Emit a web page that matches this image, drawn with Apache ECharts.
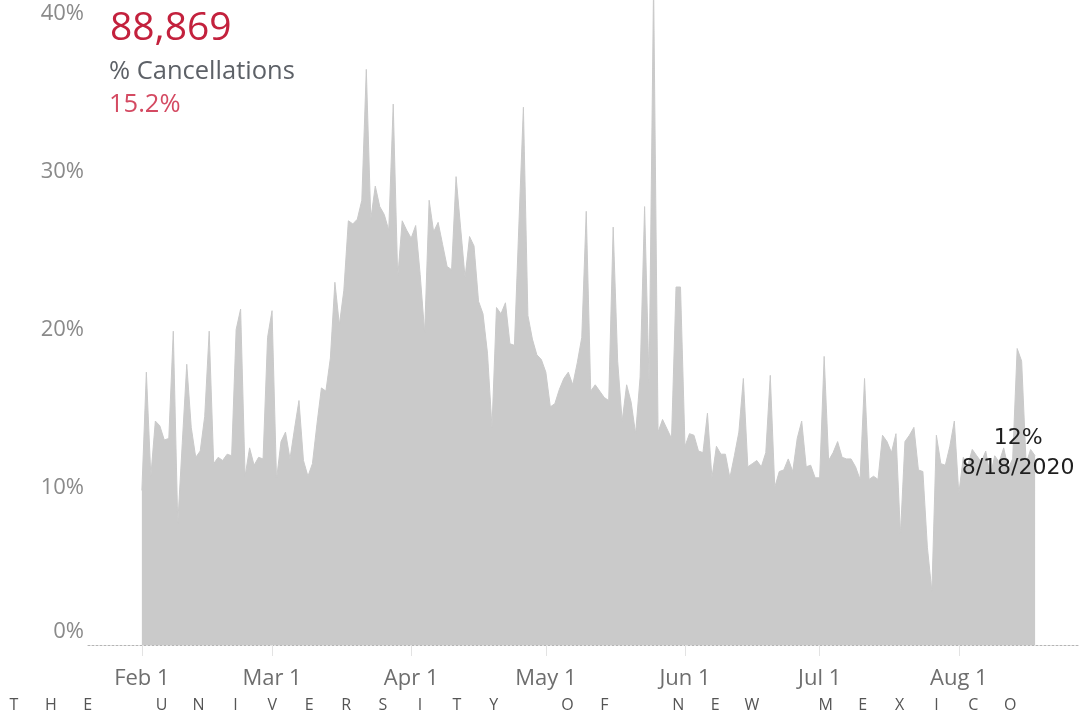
<!DOCTYPE html>
<html>
<head>
<meta charset="utf-8">
<title>% Cancellations</title>
<script src="https://cdn.jsdelivr.net/npm/echarts@6/dist/echarts.min.js"></script>
<style>
    html, body { margin: 0; padding: 0; background: #fff; }
    #chart { width: 1081px; height: 715px; }
</style>
</head>
<body>
<div id="chart"></div>
<script>
// daily % of cancellations, one array per month (2020)
var febValues = [9.8, 17.3, 10.7, 14.2, 13.9, 13.0, 13.1, 19.9, 7.7, 12.8,
    17.8, 13.8, 11.9, 12.3, 14.5, 19.9, 11.5, 11.9, 11.7, 12.1,
    12.0, 20.0, 21.3, 10.7, 12.5, 11.4, 11.9, 11.8, 19.5];
var marValues = [21.2, 10.5, 12.9, 13.5, 11.8, 13.7, 15.5, 11.7, 10.7, 11.5,
    14.0, 16.3, 16.1, 18.2, 23.0, 20.3, 22.5, 26.9, 26.7, 27.0,
    28.2, 36.5, 27.0, 29.1, 27.8, 27.3, 26.3, 34.3, 23.3, 26.9, 26.3];
var aprValues = [25.8, 26.6, 23.5, 19.8, 28.2, 26.2, 26.8, 25.4, 24.0, 23.8,
    29.7, 26.5, 23.3, 25.9, 25.3, 21.8, 21.0, 18.5, 13.8, 21.4,
    21.0, 21.7, 19.1, 19.0, 26.7, 34.1, 20.9, 19.4, 18.4, 18.1];
var mayValues = [17.3, 15.1, 15.3, 16.2, 16.9, 17.3, 16.5, 17.9, 19.5, 27.5,
    16.1, 16.5, 16.1, 15.7, 15.5, 26.5, 18.0, 14.2, 16.5, 15.4,
    13.4, 17.0, 27.8, 16.6, 42.0, 13.5, 14.3, 13.7, 13.1, 22.7, 22.7];
var junValues = [12.6, 13.4, 13.3, 12.3, 12.2, 14.7, 10.6, 12.6, 12.1, 12.1,
    10.6, 12.0, 13.5, 16.9, 11.3, 11.5, 11.7, 11.3, 12.2, 17.1,
    10.0, 11.0, 11.1, 11.8, 11.0, 13.1, 14.2, 11.3, 11.4, 10.6];
var julValues = [10.6, 18.3, 11.7, 12.2, 12.9, 11.9, 11.8, 11.8, 11.3, 10.5,
    16.9, 10.5, 10.7, 10.5, 13.3, 12.9, 12.2, 13.4, 7.0, 12.9,
    13.3, 13.8, 11.1, 11.0, 6.2, 3.4, 13.3, 11.5, 11.4, 12.6, 14.2];
var augValues = [9.6, 11.9, 11.4, 12.4, 12.0, 11.6, 12.3, 10.7, 12.0, 11.6,
    12.5, 11.2, 11.8, 18.8, 18.0, 11.5, 12.4, 12.0];

var yTicks = [0, 10, 20, 30, 40];
var monthNames = ['Jan', 'Feb', 'Mar', 'Apr', 'May', 'Jun', 'Jul', 'Aug', 'Sep'];

var totalText = '88,869';
var measureText = '% Cancellations';
var measureValue = '15.2%';
var footerText = 'THE UNIVERSITY OF NEW MEXICO';

// axis runs a bit wider than the data: Jan 20 .. Aug 28
var padBefore = 12;
var padAfter = 10;

var buildSeries = function () {
    var values = [].concat(febValues, marValues, aprValues, mayValues, junValues, julValues, augValues);
    var start = Date.UTC(2020, 1, 1) - padBefore * 86400000;
    var total = padBefore + values.length + padAfter;
    var cats = [], data = [];
    for (var i = 0; i < total; i++) {
        var d = new Date(start + i * 86400000);
        cats.push((d.getUTCMonth() + 1) + '/' + d.getUTCDate() + '/' + d.getUTCFullYear());
        var k = i - padBefore;
        data.push(k >= 0 && k < values.length ? values[k] : null);
    }
    var lastIdx = padBefore + values.length - 1;
    return {cats: cats, data: data, lastCat: cats[lastIdx], lastVal: values[values.length - 1]};
};

var isMonthStart = function (index, value) {
    return value.split('/')[1] === '1';
};

var footerGraphics = function () {
    var items = [];
    for (var i = 0; i < footerText.length; i++) {
        if (footerText[i] === ' ') continue;
        items.push({
            type: 'text',
            x: 14 + i * 36.9,
            y: 705,
            style: {
                text: footerText[i],
                fill: '#555',
                font: '16px "Open Sans"',
                textAlign: 'center',
                textVerticalAlign: 'middle'
            }
        });
    }
    return items;
};

var areaChart = function () {
    var s = buildSeries();
    var box = echarts.init(document.getElementById('chart'));
    var option = {
        animation: false,
        grid: {left: 88, right: 1, top: 0, bottom: 70},
        xAxis: {
            type: 'category',
            data: s.cats,
            boundaryGap: false,
            axisLine: {lineStyle: {color: '#b5b5b5', type: [2, 2], width: 1}},
            axisTick: {show: true, interval: isMonthStart, length: 11, lineStyle: {color: '#e3e3e3'}},
            axisLabel: {
                interval: isMonthStart,
                margin: 23,
                color: '#6e6e6e',
                fontSize: 22,
                fontFamily: 'Open Sans',
                formatter: function (value) {
                    var p = value.split('/');
                    return monthNames[p[0] - 1] + ' ' + p[1];
                }
            },
            splitLine: {show: false}
        },
        yAxis: {
            type: 'value',
            min: 0,
            max: 40.9,
            interval: 10,
            axisLine: {show: false},
            axisTick: {show: false},
            splitLine: {show: false},
            axisLabel: {
                margin: 4,
                color: '#8a8a8a',
                fontSize: 22,
                fontFamily: 'Open Sans',
                formatter: function (v) {
                    if (yTicks.indexOf(v) < 0) return '';
                    return v === 0 ? '{zero|0%}' : v + '%';
                },
                rich: {
                    zero: {color: '#8a8a8a', fontSize: 22, fontFamily: 'Open Sans', padding: [0, 0, 26, 0]}
                }
            }
        },
        series: [{
            name: '% Cancellations',
            type: 'line',
            data: s.data,
            showSymbol: false,
            connectNulls: false,
            lineStyle: {color: '#cacaca', width: 1},
            areaStyle: {color: '#cacaca', opacity: 1},
            markPoint: {
                symbol: 'circle',
                symbolSize: 1,
                itemStyle: {color: 'rgba(0,0,0,0)'},
                data: [{coord: [s.lastCat, s.lastVal]}],
                label: {
                    show: true,
                    position: 'inside',
                    offset: [-17, -2],
                    align: 'center',
                    color: '#1e1e1e',
                    fontSize: 22,
                    lineHeight: 30,
                    fontFamily: 'DejaVu Sans',
                    formatter: Math.round(s.lastVal) + '%\n' + s.lastCat
                }
            }
        }],
        graphic: [
            {type: 'text', left: 110, top: 9, style: {text: totalText, fill: '#c3213d', font: '39px "Open Sans"'}},
            {type: 'text', left: 109, top: 59, style: {text: measureText, fill: '#5d6167', font: '25.5px "Open Sans"'}},
            {type: 'text', left: 109, top: 92, style: {text: measureValue, fill: '#d44a62', font: '25.5px "Open Sans"'}}
        ].concat(footerGraphics())
    };
    box.setOption(option);
};

areaChart();
</script>
</body>
</html>
